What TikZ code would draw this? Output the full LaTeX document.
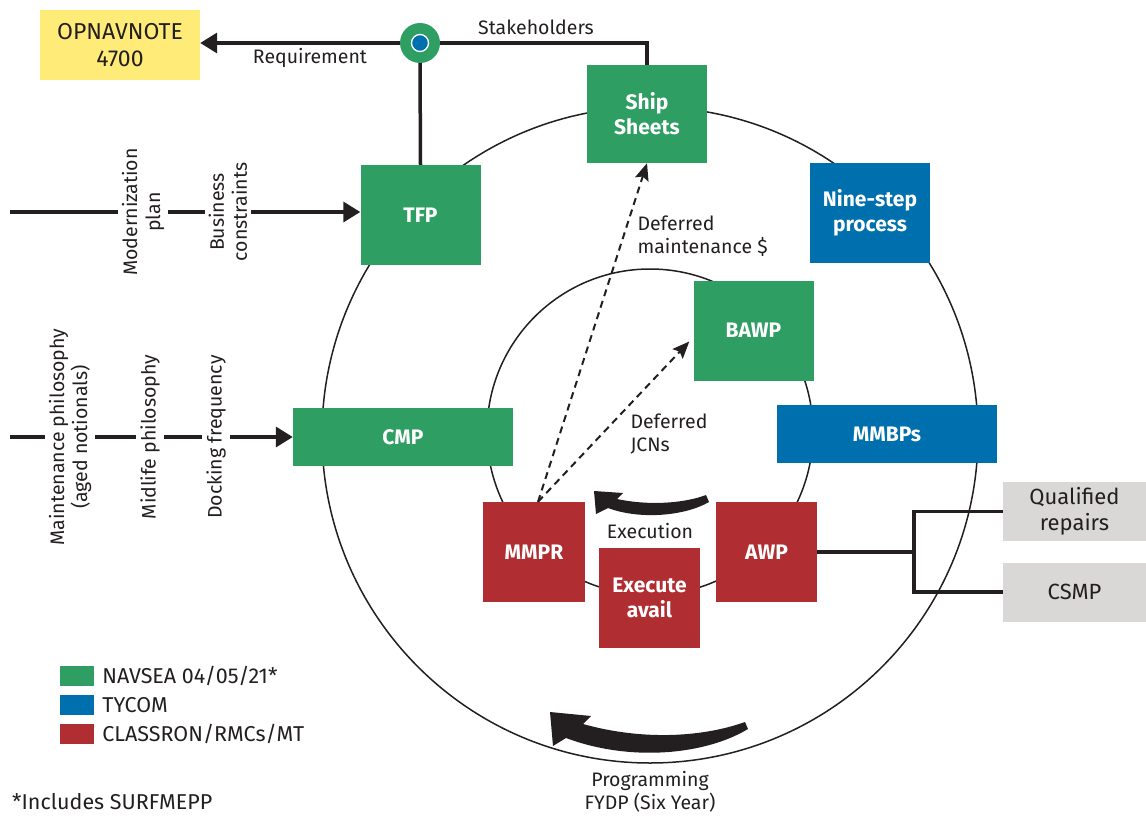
\documentclass[tikz,border=0pt]{standalone}
\usepackage{fontspec}
\setmainfont{Fira Sans}
\usepackage{tikz}
\usetikzlibrary{arrows.meta,positioning}

\definecolor{navgreen}{RGB}{46,158,99}
\definecolor{tyblue}{RGB}{0,111,173}
\definecolor{rmcred}{RGB}{176,46,50}
\definecolor{noteyellow}{RGB}{255,235,120}
\definecolor{repgray}{RGB}{217,216,214}
\definecolor{ink}{RGB}{35,31,32}

\tikzset{
  box/.style={rectangle, fill=#1, text=white, align=center, inner sep=0pt,
    font=\fontsize{21}{25}\selectfont\bfseries},
  sqbox/.style={box=#1, minimum width=120pt, minimum height=100pt},
  widebox/.style={box=#1, minimum width=220pt, minimum height=58pt},
  redbox/.style={box=rmcred, minimum width=101pt, minimum height=100pt},
  graybox/.style={rectangle, fill=repgray, align=center, inner sep=0pt,
    minimum width=143pt, minimum height=59pt, font=\fontsize{22}{26}\selectfont},
  link/.style={draw=ink, line width=3.5pt},
  feed/.style={link, -{Triangle[length=17pt,width=20pt]}},
  defer/.style={draw=ink, line width=2pt, dash pattern=on 7pt off 5pt,
    -{Stealth[length=17pt,width=14pt,inset=3pt]}},
  ring/.style={draw=ink, line width=1.5pt},
  sidelabel/.style={rotate=90, align=center, inner sep=4pt},
  legsq/.style={rectangle, fill=#1, minimum width=34pt, minimum height=20pt, inner sep=0pt},
  legtext/.style={font=\fontsize{21.5}{25}\selectfont, inner sep=0pt}
}

\begin{document}
\begin{tikzpicture}[x=1pt,y=-1pt,font=\fontsize{19.5}{23}\selectfont,text=ink]
\useasboundingbox (0,0) rectangle (1146,816);

% the two cycles
\draw[ring] (650,435) circle [radius=328];
\draw[ring] (650,432) circle [radius=163];

% boxes
\node (opnav) [rectangle, fill=noteyellow, minimum width=160pt, minimum height=70pt,
  align=center, font=\fontsize{23}{27}\selectfont] at (120,45) {OPNAVNOTE\\4700};
\node (tfp)   [sqbox=navgreen] at (420.5,215) {TFP};
\node (ship)  [sqbox=navgreen, minimum height=98pt] at (647,114) {Ship\\Sheets};
\node (nine)  [sqbox=tyblue] at (870,212.5) {Nine-step\\process};
\node (bawp)  [sqbox=navgreen] at (753.5,330.5) {BAWP};
\node (cmp)   [widebox=navgreen] at (403,437) {CMP};
\node (mmbp)  [widebox=tyblue] at (887,434) {MMBPs};
\node (mmpr)  [redbox, minimum width=102pt] at (534,552) {MMPR};
\node (awp)   [redbox] at (766.5,552) {AWP};
\node (exec)  [redbox] at (649.5,598) {Execute\\avail};
\node (qual)  [graybox] at (1074.5,511.5) {Qualified\\repairs};
\node (csmp)  [graybox] at (1074.5,592) {CSMP};

% requirement hub
\node (hub) [circle, fill=navgreen, minimum size=40pt, inner sep=0pt] at (420,43) {};
\node (hubdot) [circle, fill=tyblue, draw=white, line width=1.3pt, minimum size=17pt,
  inner sep=0pt] at (hub) {};
\draw[feed] (hub.west) -- (hub.west -| opnav.east);
\draw[link] (hub.east) -| (ship.north);
\draw[link] (hub.south) -- (tfp.north);
\node (req) at (310,58) {Requirement};
\node (stake) at (536,27) {Stakeholders};

% inputs to TFP
\coordinate (modstart) at (10,212);
\node (modplan) [sidelabel] at (143,212) {Modernization\\plan};
\node (busi) [sidelabel] at (228,212) {Business\\constraints};
\draw[link] (modstart) -- (modplan);
\draw[link] (modplan) -- (busi);
\draw[feed] (busi) -- (busi -| tfp.west);

% inputs to CMP
\coordinate (mntstart) at (10,437);
\node (mntphil) [sidelabel] at (70,437) {Maintenance philosophy\\(aged notionals)};
\node (midphil) [sidelabel] at (150,437) {Midlife philosophy};
\node (dock) [sidelabel] at (216,437) {Docking frequency};
\draw[link] (mntstart) -- (mntphil);
\draw[link] (mntphil) -- (midphil);
\draw[link] (midphil) -- (dock);
\draw[feed] (dock) -- (cmp);

% deferred work
\draw[defer] ([xshift=4pt]mmpr.north) -- (ship.south);
\draw[defer] ([xshift=4pt]mmpr.north) -- ([yshift=-11pt,xshift=-4pt]bawp.west);
\node (defmaint) [anchor=west, align=left] at (634,236) {Deferred\\maintenance \$};
\node (defjcn) [anchor=west, align=left] at (627,434) {Deferred\\JCNs};

% AWP to repairs
\coordinate (fork) at (914,552);
\draw[link] (awp.east) -- (fork);
\draw[link] (qual.west) -| (fork) |- (csmp.west);

% cycle arrows
\fill[ink] (594,491) -- (623,493) -- (617,499) .. controls (650,506) and (685,503) .. (706,495)
  -- (709,502) .. controls (685,516) and (640,520) .. (608,508) -- (596,514) -- cycle;
\node (execlbl) at (650,531) {Execution};
\fill[ink] (550,712) -- (591,716) -- (583,724) .. controls (640,740) and (700,738) .. (745,722)
  -- (748,729) .. controls (705,755) and (630,762) .. (566,738) -- (553,746) -- cycle;
\node (proglbl) [align=center] at (650,792) {Programming\\FYDP (Six Year)};

% legend
\node (lgreen) [legsq=navgreen] at (77,676) {};
\node (lblue)  [legsq=tyblue] at (77,705) {};
\node (lred)   [legsq=rmcred] at (77,734) {};
\node (tgreen) [legtext, right=8pt of lgreen] {NAVSEA 04/05/21*};
\node (tblue)  [legtext, right=8pt of lblue] {TYCOM};
\node (tred)   [legtext, right=8pt of lred] {CLASSRON/RMCs/MT};
\node (foot) [legtext, anchor=west] at (12,802) {*Includes SURFMEPP};
\end{tikzpicture}
\end{document}
